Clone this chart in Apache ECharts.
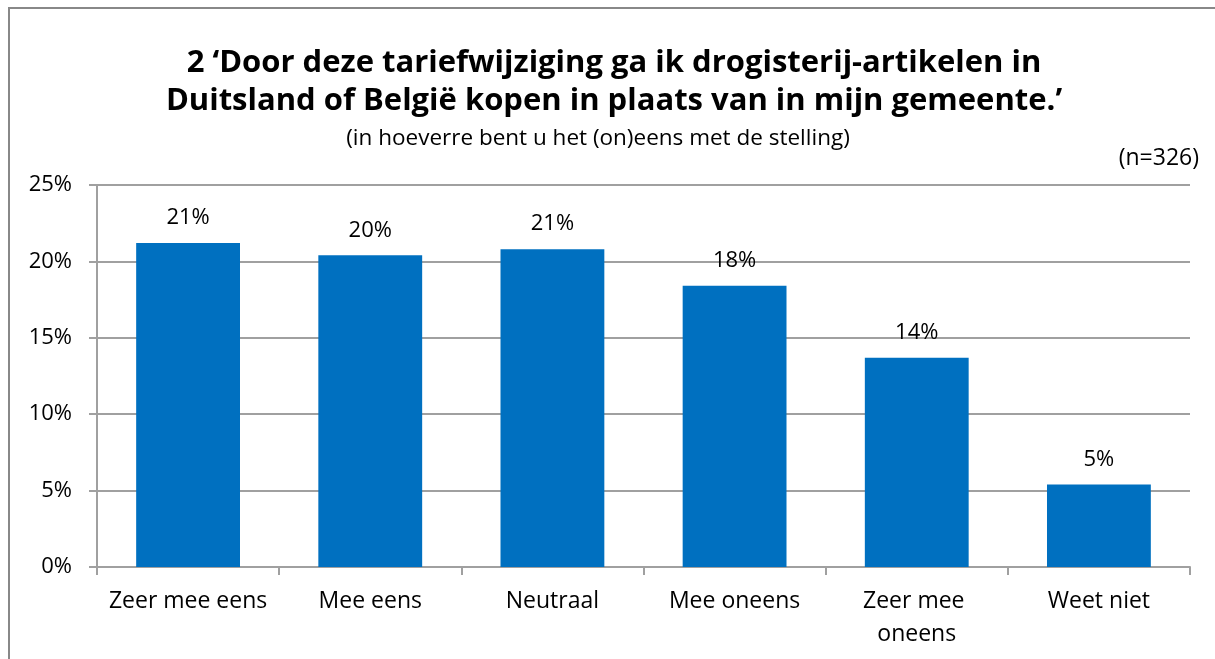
<!DOCTYPE html>
<html>
<head>
<meta charset="utf-8">
<script src="https://cdn.jsdelivr.net/npm/echarts@6/dist/echarts.min.js"></script>
<style>
html, body { margin: 0; padding: 0; background: #fff; }
#main { width: 1215px; height: 659px; }
</style>
</head>
<body>
<div id="main"></div>
<script>
// antwoordcategorieen en percentages
var categories = ['Zeer mee eens', 'Mee eens', 'Neutraal', 'Mee oneens', 'Zeer mee oneens', 'Weet niet'];
var values = [21.2, 20.4, 20.8, 18.4, 13.7, 5.4];
var yTicks = [0, 5, 10, 15, 20, 25];

var titleText = '2 \u2018Door deze tariefwijziging ga ik drogisterij-artikelen in\nDuitsland of Belgi\u00eb kopen in plaats van in mijn gemeente.\u2019';
var subText = '(in hoeverre bent u het (on)eens met de stelling)';
var nText = '(n=326)';

var font = '"Open Sans", "Noto Sans", sans-serif';
var gridColor = '#a0a0a0';

var chart = echarts.init(document.getElementById('main'));

chart.setOption({
  animation: false,
  backgroundColor: '#fff',
  textStyle: { fontFamily: font },
  graphic: [
    {
      type: 'rect',
      shape: { x: 9, y: 8, width: 1220, height: 670 },
      style: { fill: 'none', stroke: '#888', lineWidth: 2 }
    },
    {
      type: 'text',
      x: 614,
      y: 44,
      style: {
        text: titleText,
        font: 'bold 31px ' + font,
        fill: '#000',
        textAlign: 'center',
        lineHeight: 38
      }
    },
    {
      type: 'text',
      x: 598,
      y: 127,
      style: { text: subText, font: '22.5px ' + font, fill: '#000', textAlign: 'center' }
    },
    {
      type: 'text',
      right: 16,
      top: 147,
      style: { text: nText, font: '23px ' + font, fill: '#000' }
    }
  ],
  grid: { left: 97, right: 25, top: 185, bottom: 92 },
  xAxis: {
    type: 'category',
    data: categories,
    axisLine: { lineStyle: { color: gridColor, width: 2 } },
    axisTick: { show: true, length: 8, lineStyle: { color: gridColor, width: 2 } },
    axisLabel: {
      color: '#000',
      fontSize: 23,
      margin: 18,
      lineHeight: 33,
      interval: 0,
      width: 170,
      overflow: 'break'
    }
  },
  yAxis: {
    type: 'value',
    min: yTicks[0],
    max: yTicks[yTicks.length - 1],
    interval: 5,
    axisLine: { show: true, lineStyle: { color: gridColor, width: 2 } },
    axisTick: { show: true, length: 8, lineStyle: { color: gridColor, width: 2 } },
    axisLabel: {
      color: '#000',
      fontSize: 22,
      margin: 25,
      formatter: '{value}%'
    },
    splitLine: { show: true, lineStyle: { color: gridColor, width: 2 } }
  },
  series: [
    {
      type: 'bar',
      data: values,
      barWidth: '57%',
      itemStyle: { color: '#0070c0' },
      label: {
        show: true,
        position: 'top',
        distance: 14,
        color: '#000',
        fontSize: 22,
        formatter: function (p) { return Math.round(p.value) + '%'; }
      }
    }
  ]
});
</script>
</body>
</html>
